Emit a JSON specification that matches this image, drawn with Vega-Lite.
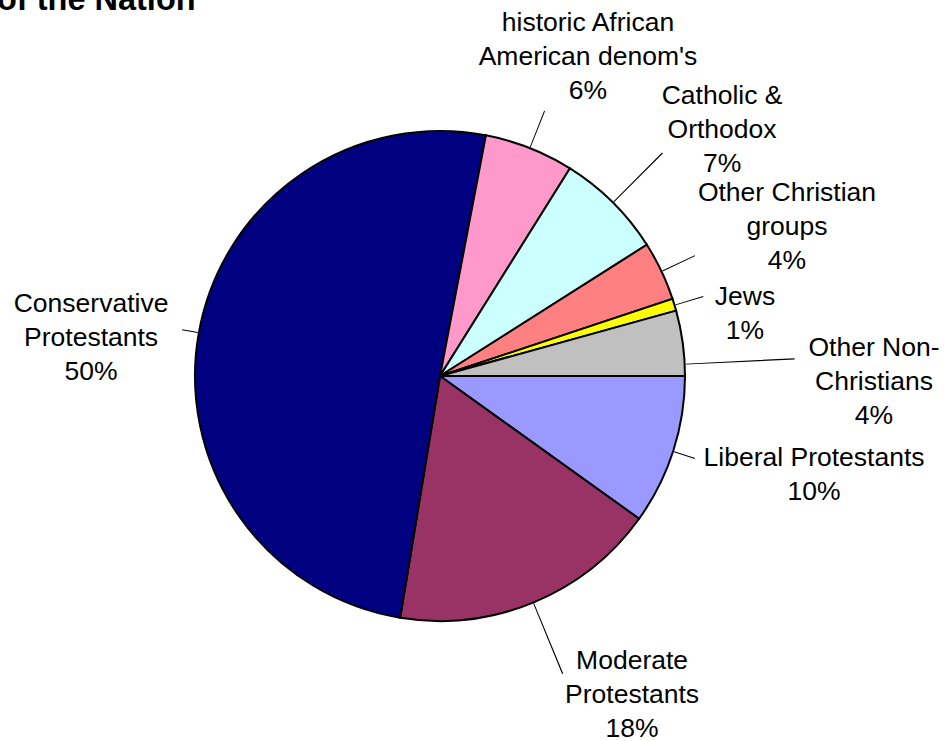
{
  "$schema": "https://vega.github.io/schema/vega-lite/v6.json",
  "width": 880,
  "height": 752,
  "autosize": {"type": "none"},
  "padding": {"left": 0, "top": 0, "right": 69, "bottom": 0},
  "background": "white",
  "config": {"view": {"stroke": null}, "font": "Liberation Sans"},
  "title": {
    "text": "of the Nation",
    "anchor": "start",
    "frame": "group",
    "font": "Liberation Sans",
    "fontSize": 32.5,
    "fontWeight": "bold",
    "color": "black",
    "baseline": "alphabetic",
    "offset": 0,
    "dx": -3,
    "dy": 42
  },
  "data": {
    "values": [
      {"order": 1, "category": "Liberal Protestants", "share": 9.9, "label": "Liberal Protestants\n10%"},
      {"order": 2, "category": "Moderate Protestants", "share": 17.7, "label": "Moderate\nProtestants\n18%"},
      {"order": 3, "category": "Conservative Protestants", "share": 50.4, "label": "Conservative\nProtestants\n50%"},
      {"order": 4, "category": "historic African American denom's", "share": 5.9, "label": "historic African\nAmerican denom's\n6%"},
      {"order": 5, "category": "Catholic & Orthodox", "share": 7.1, "label": "Catholic &\nOrthodox\n7%"},
      {"order": 6, "category": "Other Christian groups", "share": 3.9, "label": "Other Christian\ngroups\n4%"},
      {"order": 7, "category": "Jews", "share": 0.8, "label": "Jews\n1%"},
      {"order": 8, "category": "Other Non-Christians", "share": 4.3, "label": "Other Non-\nChristians\n4%"}
    ]
  },
  "transform": [
    {"window": [{"op": "sum", "field": "share", "as": "cum"}], "sort": [{"field": "order"}], "frame": [null, 0]},
    {"calculate": "datum.cum - datum.share", "as": "start"},
    {"calculate": "datum.cum - datum.share / 2", "as": "mid"},
    {"calculate": "datum.order == 8 ? 99.2 : datum.mid", "as": "leadTheta"},
    {"calculate": "datum.leadTheta + 0.06", "as": "leadEnd"},
    {"calculate": "[3.415, 15.56, 53.24, 81.31, 87.56, 92.29, 95.99, 98.96][datum.order - 1]", "as": "labTheta"},
    {"calculate": "[382.8, 343.6, 356.3, 383.2, 397.4, 392.1, 314.9, 434.9][datum.order - 1]", "as": "labR"},
    {"calculate": "[268, 322, 262, 285, 315, 282, 275, 355][datum.order - 1]", "as": "leadR"}
  ],
  "layer": [
    {
      "mark": {"type": "arc", "radius": 245, "stroke": "black", "strokeWidth": 2},
      "encoding": {
        "theta": {"field": "start", "type": "quantitative", "stack": null,
          "scale": {"type": "linear", "domain": [0, 100], "range": [1.5707963, 7.8539816], "zero": false, "nice": false}},
        "theta2": {"field": "cum"},
        "color": {
          "field": "category", "type": "nominal", "legend": null,
          "scale": {
            "domain": ["Liberal Protestants", "Moderate Protestants", "Conservative Protestants", "historic African American denom's", "Catholic & Orthodox", "Other Christian groups", "Jews", "Other Non-Christians"],
            "range": ["#9999FF", "#993366", "#000080", "#FF99CC", "#CCFFFF", "#FF8080", "#FFFF00", "#C0C0C0"]
          }
        }
      }
    },
    {
      "mark": {"type": "arc", "fill": "black", "strokeWidth": 0, "radius2": 246},
      "encoding": {
        "theta": {"field": "leadTheta", "type": "quantitative", "stack": null},
        "theta2": {"field": "leadEnd"},
        "radius": {"field": "leadR", "type": "quantitative", "scale": null}
      }
    },
    {
      "mark": {"type": "text", "font": "Liberation Sans", "fontSize": 26.5, "lineHeight": 34, "lineBreak": "\n", "align": "center", "baseline": "middle", "fill": "black"},
      "encoding": {
        "theta": {"field": "labTheta", "type": "quantitative", "stack": null},
        "radius": {"field": "labR", "type": "quantitative", "scale": null},
        "text": {"field": "label", "type": "nominal"}
      }
    }
  ]
}
